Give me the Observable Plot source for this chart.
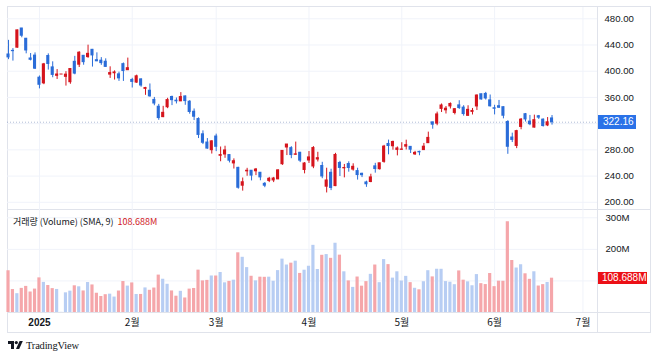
<!DOCTYPE html>
<html><head><meta charset="utf-8">
<script src="https://cdn.jsdelivr.net/npm/d3@7"></script>
<script src="https://cdn.jsdelivr.net/npm/@observablehq/plot@0.6"></script>
<style>
html,body{margin:0;padding:0;background:#fff;}
#wrap{position:relative;width:658px;height:358px;overflow:hidden;font-family:"Liberation Sans",Arial,sans-serif;color:#131722;}
#wrap svg{position:absolute;left:0;}
.ln{position:absolute;background:#e0e3eb;}
.lbl{position:absolute;color:#fff;font-size:10px;line-height:14px;height:14px;padding-left:5px;box-sizing:border-box;}
</style></head><body><div id="wrap"></div>
<script>
const dates = ["2024-12-20","2024-12-23","2024-12-24","2024-12-26","2024-12-27","2024-12-30","2024-12-31",
"2025-01-02","2025-01-03","2025-01-06","2025-01-07","2025-01-08","2025-01-09","2025-01-10","2025-01-13","2025-01-14","2025-01-15","2025-01-16","2025-01-17","2025-01-21","2025-01-22","2025-01-23","2025-01-24","2025-01-27","2025-01-28","2025-01-29","2025-01-30","2025-01-31",
"2025-02-03","2025-02-04","2025-02-05","2025-02-06","2025-02-07","2025-02-10","2025-02-11","2025-02-12","2025-02-13","2025-02-14","2025-02-18","2025-02-19","2025-02-20","2025-02-21","2025-02-24","2025-02-25","2025-02-26","2025-02-27","2025-02-28",
"2025-03-03","2025-03-04","2025-03-05","2025-03-06","2025-03-07","2025-03-10","2025-03-11","2025-03-12","2025-03-13","2025-03-14","2025-03-17","2025-03-18","2025-03-19","2025-03-20","2025-03-21","2025-03-24","2025-03-25","2025-03-26","2025-03-27","2025-03-28","2025-03-31",
"2025-04-01","2025-04-02","2025-04-03","2025-04-04","2025-04-07","2025-04-08","2025-04-09","2025-04-10","2025-04-11","2025-04-14","2025-04-15","2025-04-16","2025-04-17","2025-04-21","2025-04-22","2025-04-23","2025-04-24","2025-04-25","2025-04-28","2025-04-29","2025-04-30",
"2025-05-01","2025-05-02","2025-05-05","2025-05-06","2025-05-07","2025-05-08","2025-05-09","2025-05-12","2025-05-13","2025-05-14","2025-05-15","2025-05-16","2025-05-19","2025-05-20","2025-05-21","2025-05-22","2025-05-23","2025-05-27","2025-05-28","2025-05-29","2025-05-30",
"2025-06-02","2025-06-03","2025-06-04","2025-06-05","2025-06-06","2025-06-09","2025-06-10","2025-06-11","2025-06-12","2025-06-13","2025-06-16","2025-06-17","2025-06-18","2025-06-20"];

const open = [425.51,431.00,435.90,465.16,449.52,419.40,423.79,
390.10,381.48,423.20,405.83,392.95,394.94,391.40,383.21,414.34,409.90,423.49,421.50,432.64,416.81,416.06,414.45,394.80,396.91,395.21,410.78,401.53,
386.68,382.63,387.51,373.03,370.19,356.21,345.80,329.94,345.00,360.62,355.01,354.00,361.51,353.44,338.14,327.02,303.71,291.16,279.50,
300.34,270.93,272.92,272.06,259.32,252.54,225.31,247.22,248.13,247.31,245.06,228.16,232.61,233.35,234.99,258.08,283.60,282.66,272.48,275.58,249.31,
263.80,254.60,265.29,255.38,223.78,245.00,224.69,260.00,251.84,258.36,249.91,247.61,243.47,230.26,230.96,254.86,250.50,261.69,288.98,285.50,279.90,
280.01,284.90,284.57,273.11,276.88,279.63,290.21,321.99,320.00,342.50,340.34,346.24,336.30,347.87,344.43,331.90,337.92,346.24,364.84,365.29,355.52,
343.50,346.60,345.10,322.49,298.83,285.96,314.94,334.40,323.08,313.97,331.29,326.09,317.31,327.95];

const high = [447.08,434.51,462.78,465.33,450.00,427.00,427.93,
392.73,411.88,426.43,414.33,402.50,394.94,399.28,403.79,422.64,429.80,424.00,439.74,433.20,428.00,420.73,418.88,406.69,400.59,398.59,412.50,419.99,
389.17,394.00,388.39,375.40,380.55,360.00,349.37,346.40,358.69,362.00,359.10,367.34,362.30,354.98,342.40,328.89,309.00,297.23,293.88,
303.94,284.35,285.55,272.65,266.25,253.37,237.06,251.84,248.29,251.58,245.40,230.10,238.00,238.00,249.52,278.64,288.20,284.90,291.85,276.10,260.56,
277.45,284.99,276.30,261.00,252.00,250.44,274.69,262.49,257.74,261.80,258.75,251.97,244.34,232.21,242.79,259.45,259.54,286.85,294.86,293.32,284.45,
290.87,294.78,284.85,277.73,277.92,289.80,307.04,322.21,337.59,350.00,346.14,351.62,343.00,354.99,347.35,347.27,343.18,363.79,365.00,367.71,363.68,
348.02,355.40,345.60,324.55,305.50,309.83,327.83,335.50,332.56,332.99,332.47,327.26,329.32,332.36];

const low = [417.64,415.41,435.14,451.02,426.50,415.75,402.54,
373.04,379.45,401.70,390.00,387.40,394.94,377.29,380.07,394.54,405.66,409.13,419.75,406.31,414.59,408.95,405.78,389.00,386.50,384.48,384.41,401.34,
374.36,381.40,375.53,363.18,360.34,347.27,325.10,329.12,342.85,347.50,350.02,353.67,348.00,334.42,324.70,297.25,288.04,280.88,273.60,
277.30,261.84,267.11,260.02,250.73,220.00,217.02,239.73,232.60,240.73,232.80,222.28,230.05,230.05,234.55,256.33,271.28,266.51,271.82,260.57,243.36,
259.25,251.27,261.51,236.00,214.25,217.80,223.88,239.33,237.28,245.93,247.54,233.89,237.68,222.79,229.85,244.43,249.20,259.63,272.42,279.47,270.78,
279.81,279.81,274.40,271.35,271.00,279.41,290.00,311.50,316.80,337.00,334.72,342.33,333.37,341.63,331.39,331.39,333.21,340.00,355.91,356.00,345.29,
333.33,343.04,327.33,273.21,291.14,281.85,310.67,322.50,316.86,313.30,326.41,314.74,315.45,317.78];

const close = [421.06,430.60,462.28,454.13,431.66,417.41,403.84,
379.28,410.44,411.05,394.36,394.94,394.94,394.74,403.31,396.36,428.22,413.82,426.50,424.07,415.11,412.38,406.58,397.15,398.09,389.10,400.28,404.60,
383.68,392.21,378.17,374.32,361.62,350.73,328.50,336.51,355.94,355.84,354.11,360.56,354.40,337.80,330.53,302.80,290.80,281.95,292.98,
284.65,272.04,279.10,263.45,262.67,222.15,230.58,248.09,240.68,249.98,238.01,225.31,235.86,236.26,248.71,278.39,288.14,272.06,273.13,263.55,259.16,
268.46,282.76,267.28,239.43,233.29,221.86,272.20,252.40,252.31,252.35,254.11,241.55,241.37,227.50,237.97,250.74,259.51,284.95,285.88,292.03,282.16,
280.52,287.21,280.26,275.35,276.22,284.82,298.26,318.38,334.07,347.68,342.82,349.98,342.09,343.82,334.62,341.04,339.34,362.89,356.90,358.43,346.46,
342.69,344.27,332.05,284.70,295.14,308.58,326.09,326.43,319.11,325.31,329.13,316.35,322.05,322.16];

// volume, millions
const volume = [132.2,72.7,59.6,76.4,82.7,64.9,74.2,
109.7,95.4,85.5,75.7,73.0,0.5,62.3,67.6,84.6,81.4,68.3,94.9,87.3,61.0,50.7,56.4,58.1,48.9,68.0,98.1,83.6,
93.7,57.1,57.2,77.9,70.3,77.5,118.5,105.4,89.4,68.3,51.6,67.1,46.0,74.1,76.1,134.2,100.1,101.7,115.7,
115.6,126.7,94.0,98.5,102.4,189.1,174.9,142.2,114.8,100.2,111.9,111.5,111.9,99.0,132.7,169.1,150.4,156.3,162.6,123.8,134.0,
146.5,212.8,136.2,181.2,183.5,171.6,219.4,181.7,128.9,100.1,79.6,112.4,83.4,97.8,120.9,150.4,94.5,167.6,151.7,108.9,128.9,
99.7,114.5,94.6,76.7,71.9,97.5,132.4,112.8,137.0,136.9,97.9,95.9,88.1,131.7,102.4,97.1,84.7,120.1,91.4,88.5,123.5,
81.9,99.3,98.9,287.5,164.7,140.9,151.3,122.6,105.1,129.0,83.9,88.3,95.1,108.688];

const priceTicks = [200,240,280,320,360,400,440,480];
const priceLabels = [200,240,280,360,400,440,480];   // 320 sits under the last-price tag
const volTicks = [100,200,300];
const volLabels = [200,300];                         // 100M sits under the last-volume tag
const tickIdx = [7,28,47,68,89,110,130];
const tickLabels = ["2025","2월","3월","4월","5월","6월","7월"];

const RED = "#d5141c", BLUE = "#2a6cd8", VRED = "#f5a6aa", VBLUE = "#b7cdf3", GRID = "#f0f3fa";

const bars = dates.map((d, i) => ({i, date: d, o: open[i], h: high[i], l: low[i], c: close[i], v: volume[i] * 1e6, up: close[i] >= open[i]}));
const ticks = tickIdx.map((t, k) => ({i: t, label: tickLabels[k], bold: k === 0}));
const last = bars[bars.length - 1];

const xScale = {type: "linear", domain: [-0.23, 133.29], axis: null};
const W = 658;

const pricePlot = Plot.plot({
  width: W, height: 210, marginLeft: 7, marginRight: 61, marginTop: 7, marginBottom: 1,
  x: xScale,
  y: {domain: [189.0, 497.2], axis: null},
  color: {type: "identity"},
  style: {background: "transparent", overflow: "visible", fontFamily: "'Liberation Sans', Arial, sans-serif"},
  marks: [
    Plot.ruleY(priceTicks, {stroke: GRID}),
    Plot.ruleX(tickIdx, {stroke: GRID}),
    Plot.ruleY([last.c], {stroke: "#7d93bd", strokeOpacity: 0.6, strokeDasharray: "1,2"}),
    Plot.ruleX(bars, {x: "i", y1: "l", y2: "h", stroke: d => d.up ? RED : BLUE, strokeWidth: 1}),
    Plot.rect(bars, {x1: d => d.i - 0.35, x2: d => d.i + 0.35, y1: "o", y2: "c", fill: d => d.up ? RED : BLUE, insetTop: -0.5, insetBottom: -0.5}),
    Plot.text(priceLabels, {y: d => d, text: d => d.toFixed(2), frameAnchor: "right", dx: 7, textAnchor: "start", fill: "#131722", fontSize: 9.6})
  ]
});
pricePlot.style.top = "0px";

const volPlot = Plot.plot({
  width: W, height: 149, marginLeft: 7, marginRight: 61, marginTop: 0, marginBottom: 46,
  x: xScale,
  y: {domain: [0, 326.3e6], axis: null},
  color: {type: "identity"},
  style: {background: "transparent", overflow: "visible", fontFamily: "'Liberation Sans', Arial, sans-serif"},
  marks: [
    Plot.ruleY(volTicks, {y: d => d * 1e6, stroke: GRID}),
    Plot.ruleX(tickIdx, {stroke: GRID}),
    Plot.rect(bars, {x1: d => d.i - 0.36, x2: d => d.i + 0.36, y1: 0, y2: "v", fill: d => d.up ? VBLUE : VRED}),
    Plot.text(volLabels, {y: d => d * 1e6, text: d => d + "M", frameAnchor: "right", dx: 8, textAnchor: "start", fill: "#131722", fontSize: 9.6}),
    Plot.text(ticks.filter(d => !d.bold), {x: "i", text: "label", frameAnchor: "bottom", lineAnchor: "middle", dy: 10, fill: "#131722", fontSize: 10, fontFamily: "'Noto Sans CJK KR', sans-serif"}),
    Plot.text(ticks.filter(d => d.bold), {x: "i", text: "label", frameAnchor: "bottom", lineAnchor: "middle", dy: 10, fill: "#131722", fontSize: 10, fontWeight: "bold"})
  ]
});
volPlot.style.top = "209px";

const wrap = document.getElementById("wrap");
function line(l, t, w, h) { const d = document.createElement("div"); d.className = "ln"; Object.assign(d.style, {left: l + "px", top: t + "px", width: w + "px", height: h + "px"}); wrap.appendChild(d); }
line(7, 6, 644, 1); line(7, 332, 644, 1); line(7, 6, 1, 327); line(650, 6, 1, 327);
line(597, 6, 1, 327); line(7, 209, 644, 1); line(7, 312, 644, 1);

wrap.appendChild(pricePlot);
wrap.appendChild(volPlot);

// last price tag
const py = pricePlot.scale("y").apply(last.c);
const pl = document.createElement("div");
pl.className = "lbl"; pl.textContent = last.c.toFixed(2);
Object.assign(pl.style, {left: "598px", top: (py - 7) + "px", width: "38px", background: "#2a72e8"});
wrap.appendChild(pl);

// last volume tag
const vy = 209 + volPlot.scale("y").apply(last.v);
const vl = document.createElement("div");
vl.className = "lbl"; vl.textContent = (last.v / 1e6).toFixed(3) + "M";
Object.assign(vl.style, {left: "598px", top: (vy - 6) + "px", width: "49px", height: "12px", lineHeight: "12px", paddingLeft: "4px", background: "#ec1016"});
wrap.appendChild(vl);

// legend
const lg = document.createElement("div");
Object.assign(lg.style, {position: "absolute", left: "13px", top: "215px", fontSize: "9px", lineHeight: "14px", fontFamily: "'Noto Sans CJK KR', 'Liberation Sans', sans-serif", color: "#131722", whiteSpace: "nowrap"});
lg.innerHTML = '거래량 (Volume) (SMA, 9)&nbsp;&nbsp;<span style="color:#d0191f">' + (last.v / 1e6).toFixed(3) + 'M</span>';
wrap.appendChild(lg);

// logo
const logo = document.createElement("div");
Object.assign(logo.style, {position: "absolute", left: "8px", top: "339px", height: "12px", display: "flex", alignItems: "center", whiteSpace: "nowrap"});
logo.innerHTML = '<svg width="15" height="8" viewBox="0 0 15 8" style="position:static"><path d="M0 0h6v8H3V3H0z" fill="#131722"/><circle cx="8.3" cy="1.6" r="1.6" fill="#131722"/><path d="M11.6 0h3.2l-3.6 8H8z" fill="#131722"/></svg><span style="margin-left:3px;font-family:\'Liberation Serif\',serif;font-size:10.5px;color:#131722;letter-spacing:-0.2px">TradingView</span>';
wrap.appendChild(logo);
</script></body></html>
